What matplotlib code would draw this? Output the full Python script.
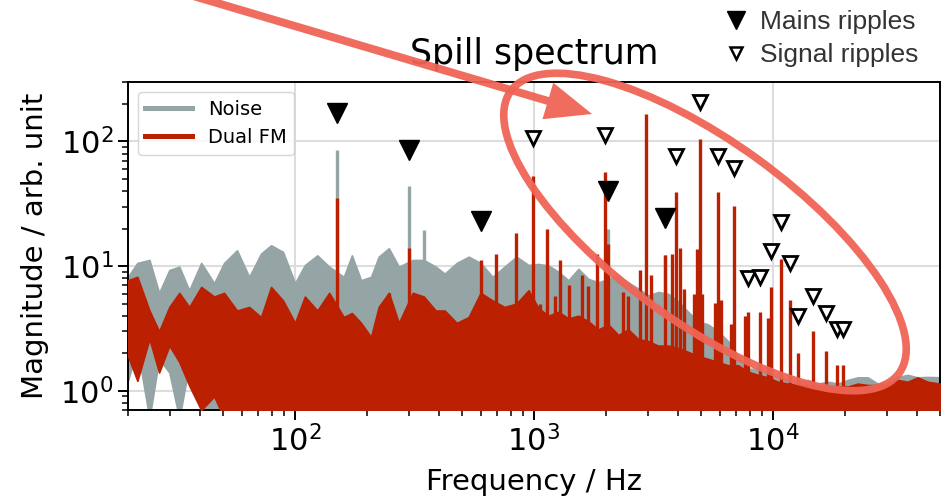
import numpy as np
import matplotlib.pyplot as plt
from matplotlib.lines import Line2D
from matplotlib.patches import Ellipse, FancyArrow

# ---- data ----
# frequency grid (Hz) on which the broadband floor was read
freq = [20, 21.9, 24.6, 27.0, 29.8, 32.8, 36.1, 40.5, 45.9, 50.5,
        57.2, 64.3, 72.1, 79.4, 89.1, 100, 110, 124, 139,
        160, 173, 189, 208, 224, 247, 272,
        311, 346, 388, 423, 475, 533, 598, 671, 753, 845, 949,
        1044, 1150, 1266, 1394, 1534, 1689, 1859, 2047, 2253, 2481,
        2731, 3007, 3310, 3644, 4011, 4417, 4862, 5353, 5894, 6488,
        7144, 7864, 8658, 9531, 10490, 11550, 12720, 14000, 15420, 16970,
        18680, 20570, 22640, 24930, 27440, 30210, 33260, 36620, 40310, 44380,
        50000]

# upper edge of the noise floor
noise_top = [8.2, 10.6, 11.2, 6.1, 9.3, 9.9, 6.4, 10.6, 7.3, 10.6,
             13.4, 8.2, 12.6, 14.7, 13.0, 7.3, 10.2, 12.2, 9.9,
             8.2, 12.2, 7.7, 8.2, 11.9, 13.9, 9.9,
             11.2, 11.2, 9.9, 8.7, 10.6, 11.9, 10.6, 8.2, 9.9, 11.9, 10.2,
             10.4, 10.1, 9.0, 7.7, 9.5, 7.9, 7.4, 7.9, 8.4, 7.4,
             6.6, 5.8, 6.2, 6.0, 5.2, 4.3, 3.6, 3.4, 3.0, 2.5,
             1.9, 1.5, 1.5, 1.34, 1.28, 1.22, 1.18, 1.22, 1.14, 1.18,
             1.14, 1.22, 1.28, 1.28, 1.14, 1.18, 1.29, 1.34, 1.28, 1.29,
             1.28]
dual_top = [7.7, 8.2, 4.4, 3.0, 4.7, 6.1, 4.7, 6.8, 5.7, 6.1,
            4.4, 4.7, 3.9, 6.8, 5.3, 3.5, 5.7, 4.4, 6.1,
            3.9, 4.2, 3.5, 2.7, 4.7, 6.1, 3.5,
            6.1, 5.7, 4.4, 4.4, 3.5, 3.9, 6.1, 5.3, 4.7, 5.0, 6.4,
            4.6, 4.0, 4.3, 3.8, 4.0, 3.6, 3.1, 3.4, 2.8, 3.1,
            2.6, 2.5, 2.3, 2.3, 2.2, 2.05, 1.9, 1.8, 1.7, 1.6,
            1.6, 1.42, 1.34, 1.28, 1.18, 1.14, 1.11, 1.11, 1.08, 1.08,
            1.08, 1.08, 1.14, 1.11, 1.11, 1.14, 1.22, 1.18, 1.28, 1.18,
            1.14]
# lower edge at the lowest frequencies (above that the floor reaches the axis)
noise_low = [1.2, 2.2, 0.6, 1.8, 1.4, 0.6, 1.6, 0.7, 0.7, 0.7]
dual_low = [1.9, 1.2, 2.6, 1.4, 2.3, 1.7, 1.1, 0.7, 0.9, 0.6]

# discrete lines
noise_spike_f = [150, 300, 348, 2050, 3530]
noise_spike_a = [84.7, 43.7, 19.4, 19.9, 12.2]
dual_spike_f = [150, 248, 300, 600, 693, 843, 990, 1060, 1130, 1225,
                1285, 1395, 1585, 1690, 1830, 1980, 2050, 2360, 2480, 2770,
                2940, 3100, 3530, 3790, 3940, 4100, 4250, 4680, 4790, 4940,
                5070, 5710, 5900, 6080, 6700, 6870, 7650, 7870, 8860, 9530,
                9840, 10770, 11740, 12710, 14680, 16700, 18560, 19600]
dual_spike_a = [35, 6.1, 13.9, 11.2, 12.6, 18.3, 53, 5.0, 20, 5.8,
                11.1, 7.0, 8.5, 6.9, 12.5, 56.5, 15, 6.2, 5.8, 9.3,
                165, 8.5, 12.2, 12.5, 39, 13.9, 6.6, 6.0, 13.8, 104,
                6.0, 5.1, 39, 5.3, 3.4, 30.6, 4.0, 4.3, 4.3, 3.8,
                6.8, 11.4, 5.3, 2.0, 3.0, 2.1, 1.6, 1.6]

# ripple markers (placed at twice the line amplitude)
mains_f = [150, 300, 600, 2050, 3550]
mains_peak = [84, 43, 11.6, 20, 12.2]
signal_f = [990, 1980, 3940, 4940, 5900, 6870, 7870, 8860, 9840, 10770,
            11740, 12710, 14680, 16700, 18560, 19600]
signal_peak = [53.5, 56, 38, 103, 38, 30.5, 4.0, 4.1, 6.6, 11.2,
               5.25, 2.0, 2.9, 2.1, 1.56, 1.56]

GREY = "#95a5a6"
RED = "#bb2000"
MARK = "#ef6455"
FLOOR = 0.5

fig = plt.figure(figsize=(9.45, 5.01), dpi=100)
ax = fig.add_axes([0.1354, 0.1816, 0.8593, 0.6547])
ax.set_xscale("log")
ax.set_yscale("log")

n = len(freq)
nlow = np.concatenate([noise_low, np.full(n - len(noise_low), FLOOR)])
dlow = np.concatenate([dual_low, np.full(n - len(dual_low), FLOOR)])

ax.fill_between(freq, nlow, noise_top, color=GREY, lw=1.2, zorder=2)
ax.vlines(noise_spike_f, FLOOR, noise_spike_a, color=GREY, lw=2.4, zorder=2)
ax.fill_between(freq, dlow, dual_top, color=RED, lw=1.2, zorder=3)
ax.vlines(dual_spike_f, FLOOR, dual_spike_a, color=RED, lw=2.4, zorder=3)

ax.plot(mains_f, 2 * np.array(mains_peak), "v", color="black", ms=15,
        zorder=5, ls="none")
ax.plot(signal_f, 2 * np.array(signal_peak), "v", mfc="white", mec="black",
        mew=2.0, ms=10, zorder=5, ls="none")

ax.set_xlim(20, 50000)
ax.set_ylim(0.7, 300)
ax.grid(True, which="major", color="#dddddd", lw=1.5)
ax.set_axisbelow(True)
for s in ax.spines.values():
    s.set_linewidth(1.4)
ax.tick_params(which="major", labelsize=22, length=7, width=1.4)
ax.tick_params(which="minor", length=4, width=1.1)

ax.set_title("Spill spectrum", fontsize=25, pad=13)
ax.set_xlabel("Frequency / Hz", fontsize=21, labelpad=8)
ax.set_ylabel("Magnitude / arb. unit", fontsize=21, labelpad=8)

h_series = [Line2D([], [], color=GREY, lw=3.6), Line2D([], [], color=RED, lw=3.6)]
ax.legend(h_series, ["Noise", "Dual FM"], loc="upper left", fontsize=14,
          handlelength=2.4, fancybox=True, framealpha=0.8)

h_marks = [Line2D([], [], marker="v", color="black", ls="none", ms=13),
           Line2D([], [], marker="v", mfc="white", mec="black", mew=1.8,
                  ls="none", ms=8)]
fig.legend(h_marks, ["Mains ripples", "Signal ripples"], loc="upper right",
           bbox_to_anchor=(0.997, 1.027), frameon=False, handlelength=1.0,
           handletextpad=0.4, labelspacing=0.35,
           prop={"family": "Liberation Sans", "size": 19}, labelcolor="#333333")

# hand-drawn style highlight
ov = fig.add_axes([0, 0, 1, 1], zorder=10)
ov.set_xlim(0, 945)
ov.set_ylim(501, 0)
ov.axis("off")
ov.add_patch(Ellipse((705, 232), 480, 180, angle=36, fill=False,
                     ec=MARK, lw=5.5, alpha=0.95))
ov.add_patch(FancyArrow(190, -5, 402, 119, width=8, head_width=38,
                        head_length=46, length_includes_head=True,
                        color=MARK, alpha=0.95, lw=0))

fig.savefig("out.png", dpi=100)
